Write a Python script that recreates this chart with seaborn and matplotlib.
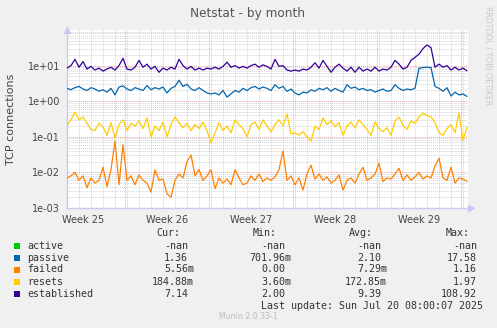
import numpy as np
import pandas as pd
import matplotlib
matplotlib.use("Agg")
import matplotlib.pyplot as plt
from matplotlib.patches import Rectangle
from matplotlib.ticker import FixedLocator, LogLocator, NullFormatter
import seaborn as sns

# ---- data: samples every 8 hours over the month ----
hours = np.arange(0, 801, 8)
days = hours / 24.0

established = [8.5, 10, 15, 9, 13, 8, 9.5, 7.5, 8.5, 7, 8, 9, 7.5, 10, 16, 8, 7.5, 9, 14, 9,
               11, 8, 9.5, 6.5, 8.5, 7.5, 9, 8, 15, 10, 8, 9.5, 7.5, 8.5, 7.5, 8.5, 8, 9, 8, 9.5,
               12.5, 9, 10, 8.5, 9.5, 8.5, 10, 11, 9, 10.5, 9.5, 8, 15, 9.5, 10, 7.5, 7, 7.5, 7, 8,
               7.5, 9, 12, 8.5, 14, 9.5, 6.5, 9, 11, 8.5, 7, 9, 6.5, 9, 7, 8, 7, 9, 7, 8,
               7.5, 9, 14, 11, 8, 9, 14, 17, 21, 30, 38, 32, 9, 11, 9, 10, 7.5, 9, 7.5, 8.5,
               7.14]
passive = [2.3, 2.1, 2.4, 2.6, 2.2, 2.0, 2.4, 2.2, 1.9, 2.1, 1.8, 2.3, 1.5, 2.5, 2.7, 2.2, 2.0, 2.4, 2.2, 2.0,
           2.75, 2.1, 2.4, 2.2, 2.5, 1.7, 2.3, 2.6, 3.9, 2.6, 3.0, 2.2, 2.0, 2.4, 2.0, 1.7, 1.6, 1.7, 1.5, 2.0,
           1.3, 1.6, 2.0, 1.8, 2.3, 2.0, 2.4, 2.6, 2.2, 2.5, 2.3, 2.0, 2.9, 2.3, 2.6, 1.9, 2.2, 1.7, 1.5, 1.8,
           1.7, 2.1, 1.9, 2.3, 2.1, 2.4, 1.9, 2.3, 2.0, 1.8, 2.9, 2.3, 2.5, 2.1, 2.3, 2.0, 2.1, 1.8, 2.0, 2.2,
           1.9, 2.0, 2.9, 2.3, 2.0, 2.2, 2.1, 2.3, 8.4, 8.8, 9.0, 8.8, 2.6, 2.3, 1.9, 2.4, 1.4, 1.8, 1.5, 1.6,
           1.36]
resets = [0.21, 0.30, 0.50, 0.30, 0.36, 0.24, 0.16, 0.15, 0.24, 0.19, 0.11, 0.25, 0.093, 0.22, 0.30, 0.15, 0.24, 0.20, 0.28, 0.17,
          0.34, 0.10, 0.20, 0.15, 0.26, 0.10, 0.22, 0.36, 0.25, 0.18, 0.24, 0.15, 0.22, 0.17, 0.26, 0.15, 0.068, 0.13, 0.25, 0.15,
          0.20, 0.13, 0.30, 0.22, 0.17, 0.10, 0.22, 0.26, 0.16, 0.30, 0.20, 0.14, 0.22, 0.30, 0.20, 0.44, 0.12, 0.13, 0.11, 0.14,
          0.10, 0.076, 0.20, 0.16, 0.34, 0.22, 0.28, 0.19, 0.25, 0.11, 0.20, 0.26, 0.18, 0.30, 0.22, 0.16, 0.11, 0.26, 0.17, 0.14,
          0.18, 0.11, 0.28, 0.36, 0.21, 0.16, 0.28, 0.24, 0.36, 0.46, 0.40, 0.36, 0.25, 0.13, 0.11, 0.17, 0.22, 0.13, 0.47, 0.08,
          0.185]
failed = [0.007, 0.008, 0.010, 0.006, 0.008, 0.0037, 0.007, 0.005, 0.006, 0.014, 0.004, 0.012, 0.076, 0.0045, 0.06, 0.006, 0.008, 0.0045, 0.0085, 0.006,
          0.005, 0.0028, 0.0118, 0.006, 0.0065, 0.0025, 0.002, 0.006, 0.009, 0.007, 0.02, 0.031, 0.008, 0.012, 0.006, 0.008, 0.0118, 0.0035, 0.007, 0.005,
          0.0065, 0.0045, 0.0118, 0.007, 0.0045, 0.005, 0.008, 0.006, 0.009, 0.0055, 0.007, 0.006, 0.0075, 0.012, 0.04, 0.006, 0.008, 0.0045, 0.007, 0.0032,
          0.009, 0.016, 0.0065, 0.009, 0.006, 0.0075, 0.005, 0.006, 0.0085, 0.0032, 0.006, 0.007, 0.005, 0.009, 0.014, 0.006, 0.007, 0.009, 0.018, 0.0055,
          0.007, 0.0065, 0.009, 0.013, 0.006, 0.0085, 0.006, 0.0075, 0.01, 0.0065, 0.008, 0.007, 0.015, 0.025, 0.007, 0.006, 0.014, 0.005, 0.007, 0.0065,
          0.0056]

series_names = ["active", "passive", "failed", "resets", "established"]
series_colors = ["#00CC00", "#0066B3", "#FF8000", "#FFCC00", "#330099"]
cur_vals = ["-nan", "1.36", "5.56m", "184.88m", "7.14"]
min_vals = ["-nan", "701.96m", "0.00", "3.60m", "2.00"]
avg_vals = ["-nan", "2.10", "7.29m", "172.85m", "9.39"]
max_vals = ["-nan", "17.58", "1.16", "1.97", "108.92"]

week_labels = ["Week 25", "Week 26", "Week 27", "Week 28", "Week 29"]
first_week_start = 58 / 12.0     # day offset of the first week boundary
span_days = 401 / 12.0

# ---- figure ----
sns.set_style("white")
plt.rcParams["font.family"] = ["DejaVu Sans"]
W, H = 497, 328
fig = plt.figure(figsize=(W / 100, H / 100), dpi=100, facecolor="#F0F0F0")


def fx(px):
    return px / W


def fy(py):
    return 1 - py / H


ax = fig.add_axes([fx(67), fy(208), (468 - 67) / W, (208 - 30) / H])
ax.set_facecolor("white")

df = pd.DataFrame({
    "day": np.concatenate([days] * 4),
    "value": np.concatenate([passive, failed, resets, established]),
    "series": np.repeat(["passive", "failed", "resets", "established"], len(days)),
})
palette = dict(zip(series_names, series_colors))
sns.lineplot(data=df, x="day", y="value", hue="series",
             hue_order=["passive", "failed", "resets", "established"],
             palette=palette, estimator=None, sort=False, lw=0.9,
             legend=False, ax=ax, zorder=3)

ax.set_yscale("log")
ax.set_ylim(1e-3, 1e2)
ax.set_xlim(0, span_days)

# grid: gray dotted minor, red dotted major
week_starts = first_week_start + 7 * np.arange(5)
ax.xaxis.set_major_locator(FixedLocator(week_starts))
ax.xaxis.set_minor_locator(FixedLocator(np.arange(1, span_days, 1.0)))
ax.set_xticklabels([])
ax.yaxis.set_major_locator(LogLocator(base=10, numticks=10))
ax.yaxis.set_minor_locator(LogLocator(base=10, subs=np.arange(2, 10), numticks=20))
ax.yaxis.set_minor_formatter(NullFormatter())
ax.set_yticks([1e-3, 1e-2, 1e-1, 1e0, 1e1])
ax.set_yticklabels(["1e-03", "1e-02", "1e-01", "1e+00", "1e+01"])
ax.set_ylim(1e-3, 1e2)

ax.grid(which="minor", color="#D4D4D4", linestyle=(0, (1, 1)), lw=0.7, zorder=1)
ax.grid(which="major", color="#E8A8A8", linestyle=(0, (1, 1)), lw=0.7, zorder=1)
ax.set_axisbelow(True)

ax.tick_params(axis="both", which="both", length=0)
ax.tick_params(axis="x", which="major", length=2, color="#E8A0A0", direction="out")
ax.tick_params(axis="y", which="major", labelsize=7, labelcolor="#444444", pad=5)

for s in ["top", "right"]:
    ax.spines[s].set_visible(False)
for s in ["left", "bottom"]:
    ax.spines[s].set_color("#C8C8F4")
    ax.spines[s].set_linewidth(1.0)

# axis arrows
ax.plot([0], [1.0], marker="^", color="#C8C8F4", markersize=4, transform=ax.transAxes,
        clip_on=False, zorder=5)
ax.plot([1.0 + 3 / 401], [0], marker=">", color="#C8C8F4", markersize=4, transform=ax.transAxes,
        clip_on=False, zorder=5)

for k, lab in enumerate(week_labels):
    ax.text(week_starts[k] - 3.5, -0.04, lab, transform=ax.get_xaxis_transform(),
            ha="center", va="top", fontsize=7, color="#444444")

ax.set_xlabel("")
ax.set_ylabel("")
fig.text(fx(11), fy(119), "TCP connections", rotation=90, ha="center", va="center",
         fontsize=8, color="#444444")

fig.text(fx(248), fy(13), "Netstat - by month", ha="center", va="center",
         fontsize=8.7, color="#555555")
fig.text(fx(488), fy(6), "RRDTOOL / TOBI OETIKER", rotation=270, ha="center", va="top",
         fontsize=5.6, color="#C8C8C8")

# ---- legend table ----
mono = dict(family="DejaVu Sans Mono", fontsize=7.2, color="#333333", va="center")
fig.text(fx(180), fy(233), "Cur:", ha="right", **mono)
fig.text(fx(277), fy(233), "Min:", ha="right", **mono)
fig.text(fx(373), fy(233), "Avg:", ha="right", **mono)
fig.text(fx(470), fy(233), "Max:", ha="right", **mono)

row_y = [245.7, 257.7, 269.5, 281.7, 293.7]
col_right = [194, 291, 387, 483]
for r, name in enumerate(series_names):
    y = row_y[r]
    fig.add_artist(Rectangle((fx(14), fy(y + 3)), 6 / W, 6 / H, transform=fig.transFigure,
                             facecolor=series_colors[r], edgecolor="none"))
    fig.text(fx(27), fy(y), name, ha="left", **mono)
    for c, vals in enumerate([cur_vals, min_vals, avg_vals, max_vals]):
        txt = vals[r]
        right = col_right[c] if txt.endswith("m") else col_right[c] - 6
        fig.text(fx(right), fy(y), txt, ha="right", **mono)

fig.text(fx(483), fy(305.7), "Last update: Sun Jul 20 08:00:07 2025", ha="right", **mono)
fig.text(fx(248), fy(316.7), "Munin 2.0.33-1", ha="center", va="center",
         fontsize=5.6, color="#BBBBBB")

fig.savefig("out.png", dpi=100, facecolor=fig.get_facecolor())
